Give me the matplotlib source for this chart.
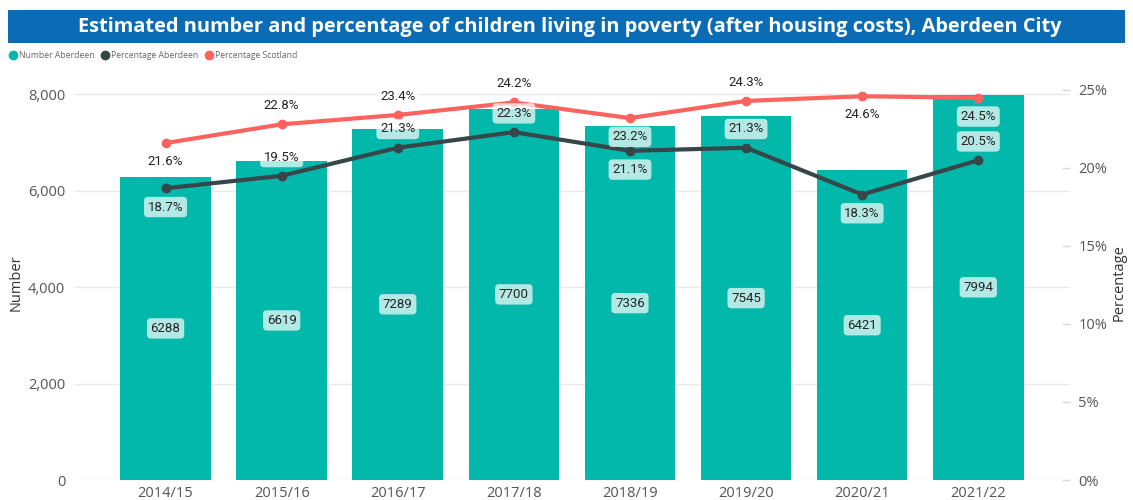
import matplotlib
matplotlib.use("Agg")
import matplotlib.pyplot as plt
from matplotlib.patches import Rectangle
from matplotlib.lines import Line2D
import numpy as np

# ---------------- data ----------------
years = ["2014/15", "2015/16", "2016/17", "2017/18", "2018/19", "2019/20", "2020/21", "2021/22"]
number_aberdeen = [6288, 6619, 7289, 7700, 7336, 7545, 6421, 7994]
pct_aberdeen = [18.7, 19.5, 21.3, 22.3, 21.1, 21.3, 18.3, 20.5]
pct_scotland = [21.6, 22.8, 23.4, 24.2, 23.2, 24.3, 24.6, 24.5]

left_ticks = [0, 2000, 4000, 6000, 8000]
right_ticks = [0, 5, 10, 15, 20, 25]

# label placement (+1 above, -1 below)
scot_dir = [-1, 1, 1, 1, -1, 1, -1, -1]
aber_dir = [-1, 1, 1, 1, -1, 1, -1, 1]

# ---------------- style ----------------
TEAL = "#01B8AA"
DARK = "#374649"
RED = "#FD625E"
GRID = "#E8E8E8"
TXT = "#555555"
LBL = "#252423"
FONT = "Open Sans"
LFONT = "Roboto"

W, H = 1133, 500
fig = plt.figure(figsize=(W / 100, H / 100), dpi=100)

def fx(px):
    return px / W

def fy(py):
    return 1 - py / H

# title bar
fig.patches.append(Rectangle((fx(8), fy(43)), fx(1117), 33 / H, transform=fig.transFigure,
                             facecolor="#0B6BB5", edgecolor="none", zorder=0))
title = fig.text(fx(570), fy(27), "Estimated number and percentage of children living in poverty (after housing costs), Aberdeen City",
                 ha="center", va="center", color="white", fontsize=14, fontweight="bold", family=FONT)
fig.canvas.draw()
bb = title.get_window_extent()
title.set_fontsize(14 * 990 / bb.width)

# legend
leg_items = [("Number Aberdeen", TEAL, 13), ("Percentage Aberdeen", DARK, 105), ("Percentage Scotland", RED, 209)]
for name, col, x in leg_items:
    fig.add_artist(Line2D([fx(x)], [fy(55)], marker="o", markersize=6, color=col,
                          markeredgecolor=col, linestyle="none", transform=fig.transFigure))
    fig.text(fx(x + 6), fy(55), name, ha="left", va="center", fontsize=6.2, color="#666666", family=FONT)

# axes
top_px, bot_px = 85, 480
ax = fig.add_axes([fx(75), fy(bot_px), fx(1070) - fx(75), (bot_px - top_px) / H])
ax2 = ax.twinx()

px_per_1000 = (480 - 94.3) / 8
px_per_pct = (480 - 90) / 25
ax.set_ylim(0, (bot_px - top_px) / px_per_1000 * 1000)
ax2.set_ylim(0, (bot_px - top_px) / px_per_pct)

x = np.arange(len(years))
ax.set_xlim(-0.78, len(years) - 1 + 0.79)

ax.bar(x, number_aberdeen, width=0.78, color=TEAL, zorder=2)
ax.set_yticks(left_ticks)
ax.set_yticklabels([f"{v:,}" for v in left_ticks])
ax.grid(axis="y", color=GRID, linewidth=1, zorder=0)
ax.set_axisbelow(True)
ax.tick_params(axis="y", length=0, pad=7, labelsize=10.5, labelcolor=TXT)
ax.tick_params(axis="x", length=0, pad=4, labelsize=10.5, labelcolor=TXT)
ax.set_xticks(x)
ax.set_xticklabels(years)
for t in ax.get_xticklabels() + ax.get_yticklabels():
    t.set_family(FONT)
for s in ax.spines.values():
    s.set_visible(False)
for s in ax2.spines.values():
    s.set_visible(False)
ax.set_ylabel("Number", fontsize=10.5, color="#333333", family=FONT)
ax.yaxis.set_label_coords(-0.052, 0.5)

ax2.plot(x, pct_scotland, color=RED, linewidth=3, marker="o", markersize=6, zorder=3,
         solid_capstyle="round")
ax2.plot(x, pct_aberdeen, color=DARK, linewidth=3, marker="o", markersize=6, zorder=3,
         solid_capstyle="round")
ax2.set_yticks(right_ticks)
ax2.set_yticklabels([f"{v}%" for v in right_ticks])
ax2.tick_params(axis="y", direction="in", length=6, width=1, color="#D8D8D8", pad=6,
                labelsize=10.5, labelcolor=TXT)
for t in ax2.get_yticklabels():
    t.set_family(FONT)
ax2.set_ylabel("Percentage", fontsize=10.5, color="#333333", family=FONT)
ax2.yaxis.set_label_coords(1.042, 0.5)

box = dict(boxstyle="round,pad=0.28,rounding_size=0.3", facecolor="white", alpha=0.7, edgecolor="none")

for xi, v in zip(x, number_aberdeen):
    ax.annotate(f"{v}", (xi, v / 2), ha="center", va="center", fontsize=9.5, color=LBL,
                family=LFONT, bbox=box, zorder=5)

for vals, dirs in ((pct_scotland, scot_dir), (pct_aberdeen, aber_dir)):
    for xi, v, d in zip(x, vals, dirs):
        ax2.annotate(f"{v:.1f}%", (xi, v), xytext=(0, 13.5 * d), textcoords="offset points",
                     ha="center", va="center", fontsize=9.5, color=LBL, family=LFONT,
                     bbox=box, zorder=6)

fig.savefig("out.png", dpi=100)
